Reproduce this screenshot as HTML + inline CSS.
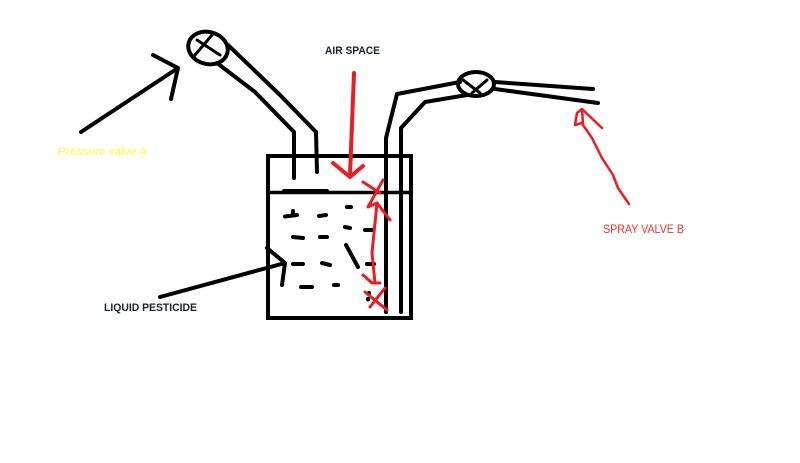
<!DOCTYPE html>
<html>
<head>
<meta charset="utf-8">
<style>
html,body{margin:0;padding:0;background:#fff;width:800px;height:463px;overflow:hidden}
svg{display:block}
text{font-family:"Liberation Sans",sans-serif}
</style>
</head>
<body>
<svg width="800" height="463" viewBox="0 0 800 463" xmlns="http://www.w3.org/2000/svg">
<defs><filter id="b" filterUnits="userSpaceOnUse" x="0" y="0" width="800" height="463"><feGaussianBlur stdDeviation="0.35"/></filter></defs>
<rect width="800" height="463" fill="#fff"/>
<g filter="url(#b)">
<g fill="none" stroke="#000" stroke-width="4" stroke-linecap="round" stroke-linejoin="round">
  <!-- tank -->
  <path d="M268 156H411V318H268Z" stroke-linecap="square" stroke-linejoin="miter"/>
  <path d="M268 192.500H411" stroke-width="3.500"/>
  <path d="M284 191H327" stroke-width="4"/>
  <!-- left pipe -->
  <path d="M228 45L280 95L316 132L317 172"/>
  <path d="M217 63L255 92L294 132V178"/>
  <ellipse cx="208" cy="48" rx="20" ry="16" transform="rotate(15 208 48)"/>
  <path d="M197 40L220 55M212 35L195 55" stroke-width="3"/>
  <!-- right pipe -->
  <path d="M460 82L397 94L386 138V312"/>
  <path d="M467 95L425 102L401 128V312"/>
  <ellipse cx="476" cy="84" rx="18" ry="12"/>
  <path d="M463 80L480 93M487 80L472 93" stroke-width="3"/>
  <path d="M495 82L593 89M495 89L598 103"/>
  <!-- pressure arrow -->
  <path d="M81 132L178 68M153 55L178 68L171 99"/>
  <!-- liquid arrow -->
  <path d="M160 297L285 263M267 248L285 263L282 285"/>
  <!-- dashes -->
  <path d="M285 216.500L297 215M293 211V215M319 216L326 215M347 207H351M345 227L350 228M365 230H373M293 237L303 238M320 237H327M346 245L358 267M293 264H303M322 263L330 265M367 264H374M301 287H312M334 285H338M369 293V293.500M368 299V299.500"/>
</g>
<g fill="none" stroke="#ed1c24" stroke-linecap="round" stroke-linejoin="round">
  <path d="M354 73L350 175M333 163L350 177L363 166" stroke-width="4"/>
  <path d="M363 182L380 193M383 180L368 207L377 203L390 220" stroke-width="3"/>
  <path d="M377 203L372 253L375 283M363 275L372 283L380 283" stroke-width="3"/>
  <path d="M365 292L387 310M385 288L370 307" stroke-width="3"/>
  <path d="M629 204L618 188L613 175L602 158L592 138L583 125L582 109L602 128M582 109L577 113L575 125L582 123" stroke-width="2.500"/>
</g>
</g>
<text x="58" y="155" font-size="11" fill="#ffff33" textLength="89" lengthAdjust="spacingAndGlyphs">Pressure valve A</text>
<text x="325" y="54" font-size="11" font-weight="bold" fill="#1a2230" textLength="55" lengthAdjust="spacingAndGlyphs">AIR SPACE</text>
<text x="104" y="311" font-size="11" font-weight="bold" fill="#1a2230" textLength="93" lengthAdjust="spacingAndGlyphs">LIQUID PESTICIDE</text>
<text x="603" y="233" font-size="11.500" fill="#ee3333" textLength="81" lengthAdjust="spacingAndGlyphs">SPRAY VALVE B</text>
</svg>
</body>
</html>
